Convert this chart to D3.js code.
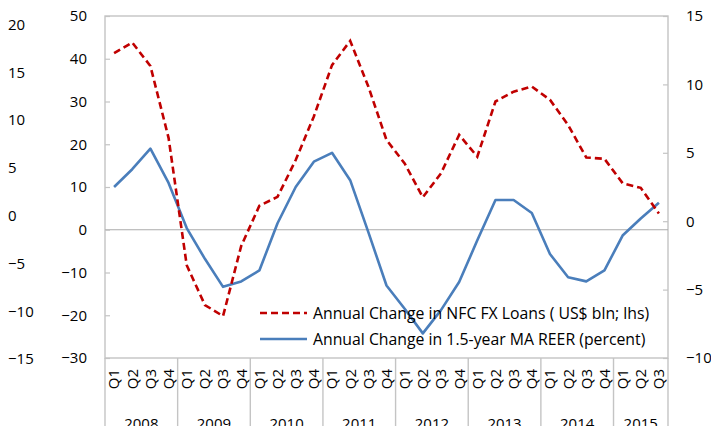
<!DOCTYPE html>
<html>
<head>
<meta charset="utf-8">
<script src="https://cdn.jsdelivr.net/npm/d3@7"></script>
<style>
  html, body { margin: 0; padding: 0; background: #fff; }
  svg { display: block; font-family: "Open Sans", "Noto Sans", sans-serif; }
</style>
</head>
<body>
<svg id="chart" width="711" height="426"></svg>
<script>
// ---- data ----
const years = ["2008", "2009", "2010", "2011", "2012", "2013", "2014", "2015"];
const quarterCounts = [4, 4, 4, 4, 4, 4, 4, 3];
const quarterNames = ["Q1", "Q2", "Q3", "Q4"];
// Annual change in NFC FX loans (US$ bln; lhs)
const fxLoans = [41.3, 43.8, 38.3, 21.5, -8.3, -17.6, -20.2, -3.8, 5.6, 7.7, 16.3, 26.5,
                 38.5, 44.2, 33.5, 21.0, 15.5, 7.6, 13.2, 22.2, 17.1, 30.0, 32.3, 33.5,
                 30.4, 24.5, 16.9, 16.6, 10.9, 9.8, 3.8];
// Annual change in 1.5-year MA REER (percent; rhs)
const reer = [2.5, 3.8, 5.3, 2.8, -0.5, -2.75, -4.8, -4.4, -3.6, -0.15, 2.5, 4.35,
              5.0, 3.0, -0.8, -4.7, -6.4, -8.2, -6.5, -4.45, -1.4, 1.55, 1.55, 0.6,
              -2.4, -4.1, -4.4, -3.6, -1.05, 0.2, 1.35];
const leftTicks = [-30, -20, -10, 0, 10, 20, 30, 40, 50];
const rightTicks = [-10, -5, 0, 5, 10, 15];
const farLeftTicks = [-15, -10, -5, 0, 5, 10, 15, 20];
const seriesNames = ["Annual Change in NFC FX Loans ( US$ bln; lhs)",
                     "Annual Change in 1.5-year MA REER (percent)"];

// ---- build category list ----
const cats = [];
years.forEach((y, yi) => {
  for (let q = 0; q < quarterCounts[yi]; q++) cats.push({ year: y, q: quarterNames[q], yi });
});

const svg = d3.select("#chart");
const L = 105, R = 668, T = 16, B = 358;
const gridColor = "#C4C4C4";
const red = "#C00000", blue = "#4A7EBB";

const x = d3.scaleBand().domain(d3.range(cats.length)).range([L, R]).padding(0);
const cx = i => x(i) + x.bandwidth() / 2;
const yL = d3.scaleLinear().domain([-30, 50]).range([B, T]);
const yR = d3.scaleLinear().domain([-10, 15]).range([B, T]);
const yFar = d3.scaleLinear().domain([-15, 20]).range([359, 24.5]);

// title fragments (cut off at top)
svg.append("text").attr("x", 329).attr("y", -3).attr("font-size", 18).attr("font-weight", "bold")
  .attr("fill", "#2E6EB5").text("(");
svg.append("text").attr("x", 423).attr("y", -3).attr("font-size", 18).attr("font-weight", "bold")
  .attr("fill", "#2E6EB5").text(")");

// plot border
svg.append("rect").attr("x", L).attr("y", T).attr("width", R - L).attr("height", B - T)
  .attr("fill", "none").attr("stroke", gridColor).attr("stroke-width", 1.4);

// zero line
svg.append("line").attr("x1", L).attr("x2", R).attr("y1", yL(0)).attr("y2", yL(0))
  .attr("stroke", "#ABABAB").attr("stroke-width", 1);

// left axis
const gL = svg.append("g").attr("transform", `translate(${L},0)`)
  .call(d3.axisLeft(yL).tickValues(leftTicks).tickSize(-5).tickPadding(18));
gL.select(".domain").remove();
gL.selectAll("line").attr("stroke", gridColor).attr("stroke-width", 1.2);
gL.selectAll("text").attr("font-size", 15).attr("fill", "#000").attr("font-family", "Open Sans");

// right axis
const gR = svg.append("g").attr("transform", `translate(${R},0)`)
  .call(d3.axisRight(yR).tickValues(rightTicks).tickSize(-5).tickPadding(18));
gR.select(".domain").remove();
gR.selectAll("line").attr("stroke", gridColor).attr("stroke-width", 1.2);
gR.selectAll("text").attr("font-size", 15).attr("fill", "#000").attr("font-family", "Open Sans");

// far-left axis labels
const gF = svg.append("g").attr("transform", "translate(8,0)")
  .call(d3.axisRight(yFar).tickValues(farLeftTicks).tickSize(0).tickPadding(0));
gF.select(".domain").remove();
gF.selectAll("line").remove();
gF.selectAll("text").attr("font-size", 15).attr("fill", "#000").attr("font-family", "Open Sans");

// bottom category axis (quarters)
const gB = svg.append("g").attr("transform", `translate(0,${B})`)
  .call(d3.axisBottom(x).tickSize(0).tickFormat(i => cats[i].q));
gB.select(".domain").remove();
gB.selectAll("text")
  .attr("transform", "rotate(-90)")
  .attr("x", -11).attr("y", 0).attr("dy", "0.36em")
  .attr("text-anchor", "end")
  .attr("font-size", 15).attr("fill", "#000").attr("font-family", "Open Sans");

// year separators and labels
let start = 0;
const bounds = [0];
quarterCounts.forEach(c => { start += c; bounds.push(start); });
bounds.forEach(b => {
  const bx = b < cats.length ? x(b) : R;
  svg.append("line").attr("x1", bx).attr("x2", bx).attr("y1", B).attr("y2", 426)
    .attr("stroke", gridColor).attr("stroke-width", 1.4);
});
years.forEach((y, yi) => {
  const x0 = x(bounds[yi]);
  const x1 = bounds[yi + 1] < cats.length ? x(bounds[yi + 1]) : R;
  svg.append("text").attr("x", (x0 + x1) / 2).attr("y", 429).attr("text-anchor", "middle")
    .attr("font-size", 15).attr("fill", "#000").text(y);
});

// lines
const lineL = d3.line().x((d, i) => cx(i)).y(d => yL(d));
const lineR = d3.line().x((d, i) => cx(i)).y(d => yR(d));
svg.append("path").datum(reer).attr("d", lineR).attr("fill", "none")
  .attr("stroke", blue).attr("stroke-width", 2.6).attr("stroke-linejoin", "round");
svg.append("path").datum(fxLoans).attr("d", lineL).attr("fill", "none")
  .attr("stroke", red).attr("stroke-width", 2.6).attr("stroke-dasharray", "7,4");

// legend
const legY = [313, 339];
const legStyles = [{ c: red, dash: "7,4" }, { c: blue, dash: null }];
seriesNames.forEach((n, i) => {
  const ln = svg.append("line").attr("x1", 260).attr("x2", 307).attr("y1", legY[i]).attr("y2", legY[i])
    .attr("stroke", legStyles[i].c).attr("stroke-width", 2.6);
  if (legStyles[i].dash) ln.attr("stroke-dasharray", legStyles[i].dash);
  svg.append("text").attr("x", 313).attr("y", legY[i]).attr("dy", "0.35em")
    .attr("font-size", 15.8).attr("fill", "#000").text(n);
});
</script>
</body>
</html>
